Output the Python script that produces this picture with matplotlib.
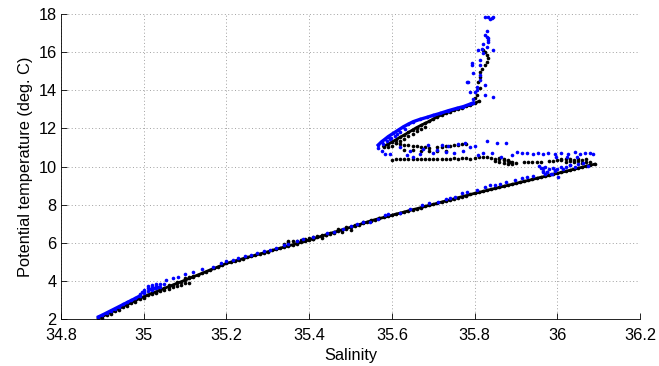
import matplotlib
matplotlib.use("Agg")
import matplotlib.pyplot as plt
import numpy as np

plt.rcParams.update({'font.family': ['Liberation Sans', 'DejaVu Sans'], 'font.size': 11.8})

# ---- black profile ----
# main deep line, fresh/cold end up to the salty corner
black_line_sal = [34.89, 34.90, 34.91, 34.92, 34.93, 34.94, 34.95, 34.96, 34.97, 34.98,
                  34.99, 35.00, 35.01, 35.02, 35.03, 35.04, 35.05, 35.06, 35.07, 35.08,
                  35.09, 35.10, 35.11, 35.12, 35.13, 35.14, 35.15, 35.16, 35.17, 35.18,
                  35.19, 35.20, 35.21, 35.22, 35.23, 35.24, 35.25, 35.26, 35.27, 35.28,
                  35.29, 35.30, 35.31, 35.32, 35.33, 35.34, 35.35, 35.36, 35.37, 35.38,
                  35.39, 35.40, 35.41, 35.42, 35.43, 35.44, 35.45, 35.46, 35.47, 35.48,
                  35.49, 35.50, 35.51, 35.52, 35.53, 35.54, 35.55, 35.56, 35.57, 35.58,
                  35.59, 35.60, 35.61, 35.62, 35.63, 35.64, 35.65, 35.66, 35.67, 35.68,
                  35.69, 35.70, 35.71, 35.72, 35.73, 35.74, 35.75, 35.76, 35.77, 35.78,
                  35.79, 35.80, 35.81, 35.82, 35.83, 35.84, 35.85, 35.86, 35.87, 35.88,
                  35.89, 35.90, 35.91, 35.92, 35.93, 35.94, 35.95, 35.96, 35.97, 35.98,
                  35.99, 36.00, 36.01, 36.02, 36.03, 36.04, 36.05, 36.06, 36.07, 36.08,
                  36.09]
black_line_temp = [2.02, 2.12, 2.22, 2.33, 2.43, 2.54, 2.64, 2.75, 2.85, 2.96,
                   3.06, 3.16, 3.25, 3.34, 3.42, 3.51, 3.60, 3.68, 3.77, 3.86,
                   3.94, 4.03, 4.12, 4.21, 4.29, 4.38, 4.47, 4.56, 4.64, 4.73,
                   4.82, 4.91, 4.97, 5.03, 5.09, 5.16, 5.22, 5.28, 5.34, 5.40,
                   5.46, 5.52, 5.59, 5.65, 5.71, 5.77, 5.83, 5.89, 5.95, 6.02,
                   6.08, 6.14, 6.21, 6.27, 6.34, 6.41, 6.48, 6.54, 6.61, 6.68,
                   6.74, 6.81, 6.88, 6.94, 7.01, 7.08, 7.15, 7.21, 7.27, 7.32,
                   7.38, 7.44, 7.50, 7.55, 7.61, 7.67, 7.73, 7.78, 7.84, 7.90,
                   7.96, 8.01, 8.07, 8.13, 8.19, 8.24, 8.30, 8.36, 8.42, 8.47,
                   8.53, 8.59, 8.64, 8.69, 8.75, 8.80, 8.85, 8.90, 8.96, 9.01,
                   9.06, 9.11, 9.17, 9.22, 9.27, 9.32, 9.38, 9.43, 9.48, 9.53,
                   9.59, 9.64, 9.69, 9.75, 9.80, 9.86, 9.91, 9.96, 10.02, 10.07,
                   10.12]

# repeated casts that spread off the main line (deep fan, 6 degC patch)
black_spread_sal = [34.90, 34.92, 34.94, 34.96, 34.98, 35.00,
                    35.02, 35.03, 35.04, 35.05, 35.06, 35.07, 35.08, 35.09, 35.10, 35.11,
                    35.04, 35.06, 35.08, 35.10, 35.11, 35.12,
                    35.34, 35.35, 35.36, 35.37, 35.38, 35.39, 35.40, 35.41, 35.42, 35.43,
                    35.44, 35.45, 35.35, 35.37, 35.39, 35.41, 35.43, 35.46, 35.48, 35.50,
                    35.47, 35.49, 35.51, 35.53, 35.55, 35.57]
black_spread_temp = [2.05, 2.26, 2.47, 2.68, 2.89, 3.08,
                     3.30, 3.37, 3.44, 3.51, 3.58, 3.65, 3.72, 3.79, 3.86, 3.90,
                     3.58, 3.76, 3.94, 4.12, 4.20, 4.26,
                     5.95, 6.02, 6.08, 6.10, 6.15, 6.20, 6.25, 6.28, 6.33, 6.38,
                     6.42, 6.45, 6.10, 6.05, 6.12, 6.18, 6.25, 6.50, 6.58, 6.64,
                     6.70, 6.80, 6.92, 7.10, 7.20, 7.30]

# intrusions between 10 and 11.3 degC
black_zig_sal = [35.60, 35.61, 35.62, 35.63, 35.64, 35.65, 35.66, 35.67, 35.68, 35.69,
                 35.70, 35.71, 35.72, 35.73, 35.74, 35.75, 35.76, 35.77, 35.78, 35.79,
                 35.80, 35.81, 35.82, 35.83, 35.84,
                 35.85, 35.85, 35.86, 35.86, 35.87, 35.87, 35.88, 35.88, 35.89, 35.89,
                 35.86, 35.87, 35.88, 35.90, 35.885,
                 35.92, 35.93, 35.94, 35.95, 35.96, 35.98, 35.99, 36.00, 36.01,
                 36.02, 36.03, 36.03, 36.04, 36.04, 36.05, 36.05, 36.06, 36.06, 36.07,
                 36.07, 36.08, 36.02, 36.01,
                 35.61, 35.62, 35.63, 35.64, 35.65, 35.66, 35.67, 35.68, 35.69, 35.71,
                 35.72, 35.73, 35.74, 35.75, 35.76, 35.77, 35.78,
                 35.63, 35.65, 35.67, 35.69, 35.71, 35.73]
black_zig_temp = [10.36, 10.38, 10.37, 10.40, 10.38, 10.39, 10.41, 10.38, 10.40, 10.42,
                  10.40, 10.41, 10.39, 10.42, 10.40, 10.43, 10.41, 10.43, 10.44, 10.42,
                  10.45, 10.50, 10.52, 10.50, 10.47,
                  10.42, 10.30, 10.38, 10.25, 10.33, 10.20, 10.28, 10.15, 10.22, 10.12,
                  10.45, 10.40, 10.35, 10.18, 10.25,
                  10.22, 10.22, 10.23, 10.22, 10.23, 10.30, 10.31, 10.32, 10.33,
                  10.38, 10.30, 10.42, 10.35, 10.22, 10.28, 10.40, 10.32, 10.20, 10.25,
                  10.38, 10.22, 10.25, 10.40,
                  11.22, 11.18, 11.15, 11.12, 11.10, 11.06, 11.03, 11.00, 10.97, 11.00,
                  11.03, 11.06, 11.10, 11.12, 11.15, 11.17, 11.20,
                  10.88, 10.85, 10.83, 10.82, 10.80, 10.84]

# warm arm from the 11 degC nose up to 13.4 degC
black_arm_sal = [35.58, 35.59, 35.60, 35.61, 35.62, 35.63, 35.64, 35.65, 35.66, 35.67,
                 35.68, 35.69, 35.70, 35.71, 35.72, 35.73, 35.74, 35.75, 35.76, 35.77,
                 35.78, 35.79, 35.80, 35.81]
black_arm_temp = [11.05, 11.17, 11.29, 11.41, 11.54, 11.66, 11.79, 11.92, 12.05, 12.16,
                  12.27, 12.37, 12.50, 12.62, 12.71, 12.80, 12.89, 12.97, 13.04, 13.10,
                  13.17, 13.23, 13.32, 13.42]

# second cast under the arm and the near-surface column
black_top_sal = [35.59, 35.60, 35.61, 35.62, 35.63, 35.64, 35.65, 35.66, 35.67, 35.68,
                 35.801, 35.805, 35.813, 35.809, 35.813, 35.813, 35.819, 35.825, 35.829,
                 35.833, 35.829, 35.825, 35.821]
black_top_temp = [11.02, 11.10, 11.22, 11.35, 11.47, 11.60, 11.72, 11.85, 11.97, 12.08,
                  13.58, 13.75, 14.11, 14.46, 14.72, 14.98, 15.15, 15.33, 15.51,
                  15.68, 15.86, 16.03, 16.10]

# ---- blue profile ----
# cold end, continuous trace up to the 35.0 patch
blue_base_sal = [34.89, 34.90, 34.91, 34.92, 34.93, 34.94, 34.95, 34.96, 34.97, 34.98, 34.99]
blue_base_temp = [2.10, 2.20, 2.31, 2.42, 2.53, 2.64, 2.75, 2.86, 2.97, 3.08, 3.20]

blue_deep_sal = [34.99, 35.00, 35.00, 35.01, 35.01, 35.02, 35.02, 35.02, 35.03, 35.03,
                 35.04, 35.04, 35.00, 35.01, 35.03, 34.995, 35.015, 35.025, 35.035, 35.05,
                 35.055, 35.07, 35.084, 35.10, 35.12, 35.14, 35.168, 35.188, 35.20, 35.217,
                 35.229, 35.245, 35.26, 35.273, 35.29, 35.305, 35.32, 35.338, 35.35, 35.37,
                 35.386, 35.41, 35.442, 35.46, 35.483, 35.50, 35.515, 35.531, 35.547, 35.567,
                 35.583, 35.59, 35.62, 35.643, 35.672, 35.69, 35.712, 35.73, 35.74, 35.753,
                 35.769, 35.781, 35.805, 35.825, 35.837, 35.849, 35.861, 35.877, 35.898,
                 35.914, 35.926, 35.942, 35.966]
blue_deep_temp = [3.30, 3.35, 3.50, 3.45, 3.60, 3.50, 3.65, 3.75, 3.60, 3.72,
                  3.68, 3.80, 3.42, 3.70, 3.82, 3.40, 3.55, 3.62, 3.66, 3.85,
                  4.03, 4.12, 4.21, 4.33, 4.47, 4.60, 4.74, 4.95, 5.02, 5.08,
                  5.20, 5.28, 5.36, 5.44, 5.54, 5.63, 5.72, 5.88, 5.95, 6.10,
                  6.20, 6.30, 6.49, 6.58, 6.70, 6.85, 6.98, 7.10, 7.10, 7.22,
                  7.45, 7.48, 7.55, 7.75, 7.98, 8.10, 8.15, 8.28, 8.33, 8.41,
                  8.59, 8.68, 8.76, 8.94, 9.03, 9.03, 9.06, 9.20, 9.29,
                  9.38, 9.46, 9.50, 9.73]

blue_zig_sal = [35.96, 35.965, 35.97, 35.975, 35.98, 35.985, 35.99, 35.995, 35.97, 36.00,
                36.01, 35.955, 36.02, 36.03, 36.05,
                35.567, 35.575, 35.583, 35.595, 35.62, 35.636, 35.652, 35.668, 35.688, 35.708,
                35.72, 35.736, 35.749, 35.761, 35.777, 35.789, 35.801, 35.809, 35.821, 35.829,
                35.841, 35.853, 35.865, 35.877, 35.89, 35.902, 35.914, 35.926, 35.942, 35.954,
                35.966, 35.978, 35.994, 36.01, 36.027, 36.043, 36.055, 36.067, 36.079, 36.087,
                36.047, 36.023, 35.998, 35.773, 35.732, 35.7, 35.676, 35.644,
                35.966, 35.974, 35.986, 35.994, 36.002, 36.014, 36.031, 36.043, 36.063, 36.075]
blue_zig_temp = [9.90, 9.78, 9.95, 9.70, 9.85, 9.62, 9.92, 9.75, 9.60, 9.88,
                 9.95, 10.02, 10.00, 10.10, 10.15,
                 10.95, 10.83, 10.66, 10.66, 11.04, 10.60, 10.52, 10.66, 11.13, 10.87,
                 11.13, 11.08, 10.69, 11.18, 11.25, 11.04, 11.08, 10.60, 10.73, 11.36,
                 10.69, 11.22, 10.48, 11.25, 10.60, 10.78, 10.73, 10.69, 10.66, 10.69,
                 10.66, 10.69, 10.66, 10.69, 10.66, 10.78, 10.66, 10.69, 10.73, 10.66,
                 10.52, 10.48, 10.52, 10.83, 10.78, 10.69, 10.90, 10.83,
                 9.90, 9.73, 9.62, 9.82, 9.47, 9.85, 10.08, 9.96, 10.17, 10.03]

# upper edge of the warm arm
blue_arm_sal = [35.567, 35.575, 35.583, 35.591, 35.603, 35.616, 35.628, 35.640, 35.652, 35.668,
                35.684, 35.700, 35.716, 35.736, 35.757, 35.773, 35.789, 35.797]
blue_arm_temp = [11.13, 11.30, 11.43, 11.57, 11.74, 11.92, 12.09, 12.23, 12.36, 12.48,
                 12.58, 12.69, 12.79, 12.93, 13.06, 13.15, 13.28, 13.35]

blue_top_sal = [35.579, 35.587, 35.595, 35.607, 35.620, 35.632, 35.599, 35.612,
                35.781, 35.789, 35.793, 35.797, 35.805, 35.813, 35.825, 35.825, 35.845, 35.813,
                35.809, 35.817, 35.829, 35.833, 35.829, 35.825, 35.833, 35.831, 35.825, 35.833,
                35.841, 35.845, 35.837, 35.845, 35.813, 35.805, 35.797, 35.821, 35.813, 35.821,
                35.833, 35.793, 35.785, 35.801]
blue_top_temp = [11.18, 11.33, 11.45, 11.62, 11.80, 11.98, 11.50, 11.70,
                 14.46, 13.93, 15.42, 14.90, 14.16, 14.55, 14.28, 13.76, 13.64, 15.60,
                 16.12, 16.16, 16.30, 16.56, 16.82, 16.91, 16.75, 17.10, 17.84, 17.84,
                 17.78, 17.84, 17.73, 16.12, 15.33, 14.00, 13.53, 15.95, 14.80, 16.45,
                 16.65, 15.33, 14.46, 13.93]

xticks = [34.8, 35.0, 35.2, 35.4, 35.6, 35.8, 36.0, 36.2]
yticks = [2, 4, 6, 8, 10, 12, 14, 16, 18]

fig = plt.figure(figsize=(6.59, 3.66), dpi=100)
ax = fig.add_axes([0.0926, 0.1292, 0.8786, 0.8317])

dot = dict(linestyle='none', marker='o', ms=2.6, mew=0)

# continuous stretches of each cast are dense enough to read as a line
ax.plot(black_line_sal, black_line_temp, '-', color='k', lw=2.0)
ax.plot(black_arm_sal, black_arm_temp, '-', color='k', lw=2.0)
ax.plot(black_line_sal + black_spread_sal + black_zig_sal + black_arm_sal + black_top_sal,
        black_line_temp + black_spread_temp + black_zig_temp + black_arm_temp + black_top_temp,
        color='k', **dot)

ax.plot(blue_base_sal, blue_base_temp, '-', color='b', lw=2.2)
ax.plot(blue_arm_sal, blue_arm_temp, '-', color='b', lw=2.4)
ax.plot(blue_base_sal + blue_deep_sal + blue_zig_sal + blue_arm_sal + blue_top_sal,
        blue_base_temp + blue_deep_temp + blue_zig_temp + blue_arm_temp + blue_top_temp,
        color='b', **dot)

ax.set_xlim(34.8, 36.2)
ax.set_ylim(2, 18)
ax.set_xticks(xticks)
ax.set_yticks(yticks)
ax.set_xticklabels(['%g' % v for v in xticks])
ax.set_yticklabels(['%g' % v for v in yticks])
ax.tick_params(direction='in', length=4, width=0.6, labelsize=11.8)
ax.tick_params(axis='x', pad=7)
ax.tick_params(axis='y', pad=3)
ax.grid(True, color='#a0a0a0', linestyle=(0, (1, 2.5)), linewidth=0.7)
ax.set_axisbelow(True)
for side in ['top', 'right']:
    ax.spines[side].set_visible(False)
for side in ['left', 'bottom']:
    ax.spines[side].set_linewidth(0.6)

ax.set_xlabel('Salinity', fontsize=11.8, labelpad=3)
ax.set_ylabel('Potential temperature (deg. C)', fontsize=11.8, labelpad=4)

fig.savefig('out.png', dpi=100)
